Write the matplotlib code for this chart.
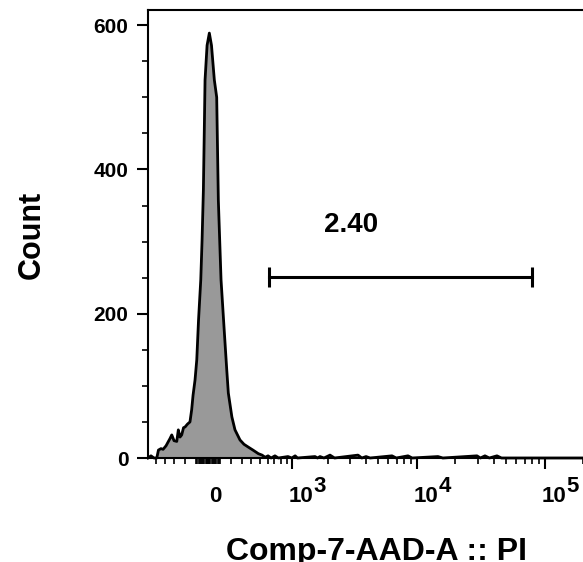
import matplotlib
matplotlib.use('Agg')
import matplotlib.pyplot as plt
from matplotlib.ticker import FixedLocator, NullFormatter

plt.rcParams['font.family'] = ['Liberation Sans', 'DejaVu Sans']
plt.rcParams['font.weight'] = 'bold'

# histogram: channel value -> event count
pi_values = [-607, -567, -528, -493, -473, -443, -419, -386, -365, -344,
             -326, -303, -276, -261, -245, -229, -212, -198, -176, -154,
             -139, -127, -110, -95, -80, -61, -50, -39, -30, -25,
             -8, 11, 29, 53, 73, 87, 110, 136, 160, 174,
             206, 235, 283, 323, 369, 419, 482, 528, 568,
             607, 650, 707, 760, 927, 1000, 1069, 1120, 1566, 1640,
             1718, 1850, 2069, 2250, 3455, 3700, 3999, 4300, 6394, 6900,
             8537, 9200, 14648, 16000, 29600, 31500, 34180, 37000, 42440, 46000,
             262144]
counts = [0, 3, 0, 0, 11, 13, 12, 17, 22, 27,
          32, 24, 23, 39, 29, 32, 42, 43, 47, 50,
          67, 87, 108, 136, 191, 247, 302, 371, 468, 524,
          572, 589, 572, 524, 500, 357, 247, 181, 122, 90,
          57, 39, 25, 19, 15, 11, 6, 4, 1,
          3, 0, 3, 0, 2, 0, 3, 0, 2, 0,
          2, 0, 4, 0, 4, 0, 2, 0, 3, 0,
          3, 0, 2, 0, 3, 0, 3, 0, 3, 0,
          0]

# gate
gate_x = [620, 79660]
gate_level = 251
gate_label = '2.40'
gate_label_pos = (3040, 323)

y_major = [0, 200, 400, 600]
y_minor = [50, 100, 150, 250, 300, 350, 450, 500, 550]
x_labels = {0: '0', 1e3: ('10', '3'), 1e4: ('10', '4'), 1e5: ('10', '5')}

x_minor = []
for k in range(0, 5):
    for m in range(1, 10):
        v = m * 10 ** k
        if v not in (1e3, 1e4, 1e5):
            x_minor.append(v)
        if v < 600:
            x_minor.append(-v)
x_minor.append(2e5)

fig = plt.figure(figsize=(5.83, 5.62), dpi=100)
ax = fig.add_axes([148 / 583, 104 / 562, 450 / 583, 448 / 562])

ax.set_xscale('asinh', linear_width=465)
ax.set_xlim(-607, 262144)
ax.set_ylim(0, 621)

ax.fill_between(pi_values, counts, 0, color='#999999', lw=0)
ax.plot(pi_values, counts, color='black', lw=2.0, clip_on=False)

# gate bar
ax.plot(gate_x, [gate_level, gate_level], color='black', lw=2.2,
        marker='|', markersize=14, mew=2.2)
ax.text(gate_label_pos[0], gate_label_pos[1], gate_label, ha='center', va='center',
        fontsize=20, fontweight='bold')

for s in ['left', 'top', 'bottom']:
    ax.spines[s].set_linewidth(1.5)
ax.spines['right'].set_visible(False)

ax.yaxis.set_major_locator(FixedLocator(y_major))
ax.yaxis.set_minor_locator(FixedLocator(y_minor))
ax.xaxis.set_major_locator(FixedLocator([1e3, 1e4, 1e5]))
ax.xaxis.set_minor_locator(FixedLocator(x_minor))
ax.xaxis.set_major_formatter(NullFormatter())
ax.xaxis.set_minor_formatter(NullFormatter())
ax.tick_params(axis='both', which='major', direction='out', length=8, width=1.5)
ax.tick_params(axis='both', which='minor', direction='out', length=4, width=1.2)
ax.tick_params(axis='y', labelsize=15, pad=6)
for lbl in ax.get_yticklabels():
    lbl.set_fontweight('bold')

# x tick labels, FlowJo style (full-size exponents)
for xv, lab in x_labels.items():
    if isinstance(lab, str):
        ax.annotate(lab, xy=(xv, 0), xycoords=('data', 'axes fraction'),
                    xytext=(7, -28), textcoords='offset pixels',
                    ha='center', va='top', fontsize=16, fontweight='bold')
    else:
        ax.annotate(lab[0], xy=(xv, 0), xycoords=('data', 'axes fraction'),
                    xytext=(-3, -28), textcoords='offset pixels',
                    ha='left', va='top', fontsize=16, fontweight='bold')
        ax.annotate(lab[1], xy=(xv, 0), xycoords=('data', 'axes fraction'),
                    xytext=(22, -18), textcoords='offset pixels',
                    ha='left', va='top', fontsize=16, fontweight='bold')

fig.text(32 / 583, 1 - 235 / 562, 'Count', rotation=90, ha='center', va='center',
         fontsize=22, fontweight='bold')
fig.text(376 / 583, 1 - 537 / 562, 'Comp-7-AAD-A :: PI', ha='center', va='top',
         fontsize=23, fontweight='bold')

fig.savefig('out.png', dpi=100)
